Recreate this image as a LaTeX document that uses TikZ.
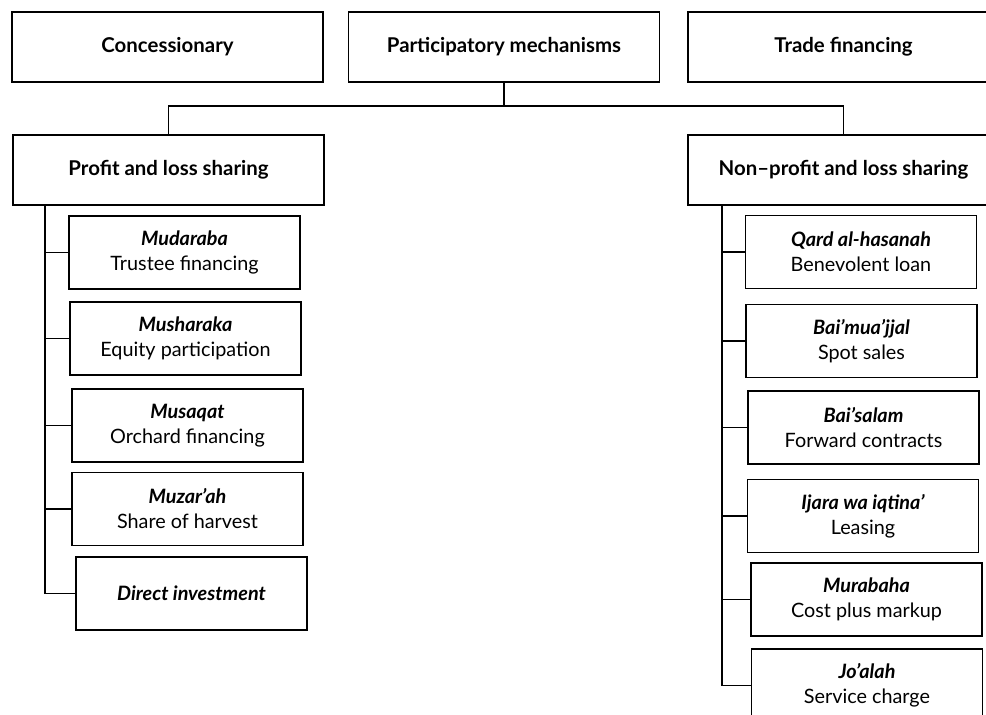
\documentclass[tikz,border=0pt]{standalone}
\usepackage{fontspec}
\setmainfont{Lato}
\newcommand{\arabterm}[1]{{\bfseries\itshape #1}}
\tikzset{
  headbox/.style={draw, line width=0.9pt, minimum width=155.5pt, minimum height=35pt,
    font=\bfseries\fontsize{10.2}{12}\selectfont},
  formbox/.style={draw, line width=0.9pt, minimum width=115.5pt, minimum height=36.5pt,
    align=center, font=\fontsize{9.9}{12.5}\selectfont},
  link/.style={line width=0.9pt}
}
\begin{document}
\begin{tikzpicture}[x=0.5pt,y=-0.5pt]
        \useasboundingbox (0,0) rectangle (986,715);

        % the three families of instruments
        \node[headbox] (conc)  at (167.5,47) {Concessionary};
        \node[headbox] (part)  at (504,47)   {Participatory mechanisms};
        \node[headbox] (trade) at (843.5,47) {Trade financing};

        % the two kinds of participatory mechanisms
        \node[headbox] (pls)  at (168.5,170) {Profit and loss sharing};
        \node[headbox] (npls) at (843.5,170) {Non--profit and loss sharing};

        % profit and loss sharing contracts
        \foreach \n/\x/\y/\arab/\eng in {
            mudaraba/184.5/252.5/Mudaraba/Trustee financing,
            musharaka/185.5/338.5/Musharaka/Equity participation,
            musaqat/187.5/425.5/Musaqat/Orchard financing,
            muzarah/187.5/509/Muzar’ah/Share of harvest}
                \node[formbox] (\n) at (\x,\y) {\arabterm{\arab}\\ \eng};
        \node[formbox] (direct) at (191.5,593.5) {\arabterm{Direct investment}};

        % non-profit and loss sharing contracts
        \foreach \n/\x/\y/\arab/\eng in {
            qard/861/252/Qard al-hasanah/Benevolent loan,
            muajjal/861.5/341/Bai’mua’jjal/Spot sales,
            salam/863.5/427.5/Bai’salam/Forward contracts,
            ijara/863/516/Ijara wa iqtina’/Leasing,
            murabaha/866.5/599.5/Murabaha/Cost plus markup,
            joalah/867/685.5/Jo’alah/Service charge}
                \node[formbox] (\n) at (\x,\y) {\arabterm{\arab}\\ \eng};

        % connect the participatory box to its two branches
        \draw[link] (part.south) -- ++(0,23) coordinate (fork);
        \draw[link] (pls.north) |- (fork) -| (npls.north);

        % left trunk
        \coordinate (ltrunk) at ([xshift=16.5pt]pls.south west);
        \draw[link] (ltrunk) |- (direct.west);
        \foreach \n in {mudaraba,musharaka,musaqat,muzarah}
                \draw[link] (ltrunk |- \n.west) -- (\n.west);

        % right trunk
        \coordinate (rtrunk) at ([xshift=17.5pt]npls.south west);
        \draw[link] (rtrunk) |- (joalah.west);
        \foreach \n in {qard,muajjal,salam,ijara,murabaha}
                \draw[link] (rtrunk |- \n.west) -- (\n.west);
\end{tikzpicture}
\end{document}
